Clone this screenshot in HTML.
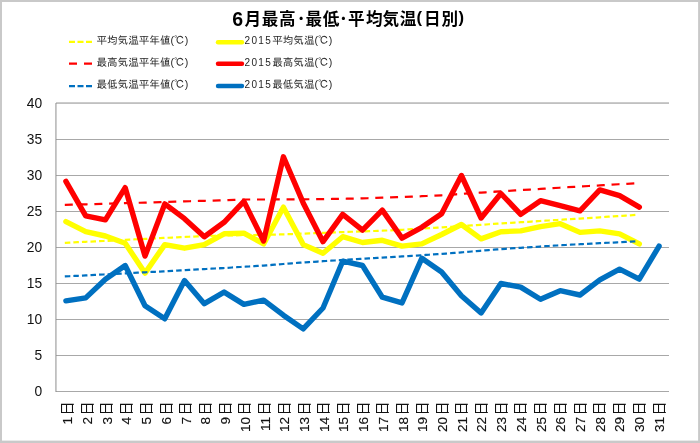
<!DOCTYPE html>
<html lang="ja">
<head>
<meta charset="utf-8">
<title>6月最高･最低･平均気温(日別)</title>
<style>
html,body{margin:0;padding:0;background:#fff;}
body{width:700px;height:443px;overflow:hidden;}
svg{display:block;}
.ax{font-family:"Liberation Sans","Noto Sans CJK JP",sans-serif;font-size:13.6px;fill:#111111;stroke:#111111;stroke-width:0.15px;}
.ay{font-size:13.8px;letter-spacing:0.3px;stroke:none;}
.lg{font-family:"Liberation Sans","IPAGothic",sans-serif;font-size:10.6px;fill:#262626;}
.tt{font-family:"Liberation Sans","Noto Sans CJK JP",sans-serif;font-size:16.6px;font-weight:bold;fill:#000;}
</style>
</head>
<body>
<svg width="700" height="443" viewBox="0 0 700 443">
<rect x="0" y="0" width="700" height="443" fill="#c9c9c9"/>
<rect x="2" y="2" width="696.1" height="438.6" fill="#ffffff"/>

<line x1="56.00" y1="391.50" x2="669.00" y2="391.50" stroke="#a8a8a8" stroke-width="1"/>
<line x1="56.00" y1="355.50" x2="669.00" y2="355.50" stroke="#a8a8a8" stroke-width="1"/>
<line x1="56.00" y1="319.50" x2="669.00" y2="319.50" stroke="#a8a8a8" stroke-width="1"/>
<line x1="56.00" y1="283.50" x2="669.00" y2="283.50" stroke="#a8a8a8" stroke-width="1"/>
<line x1="56.00" y1="247.50" x2="669.00" y2="247.50" stroke="#a8a8a8" stroke-width="1"/>
<line x1="56.00" y1="211.50" x2="669.00" y2="211.50" stroke="#a8a8a8" stroke-width="1"/>
<line x1="56.00" y1="175.50" x2="669.00" y2="175.50" stroke="#a8a8a8" stroke-width="1"/>
<line x1="56.00" y1="139.50" x2="669.00" y2="139.50" stroke="#a8a8a8" stroke-width="1"/>
<line x1="56.00" y1="103.05" x2="669.00" y2="103.05" stroke="#8c8c8c" stroke-width="1"/>
<line x1="55.95" y1="103.00" x2="55.95" y2="392.00" stroke="#8e8e8e" stroke-width="1"/>
<text class="ax ay" x="42.6" y="395.6" text-anchor="end">0</text>
<text class="ax ay" x="42.6" y="359.6" text-anchor="end">5</text>
<text class="ax ay" x="42.6" y="323.6" text-anchor="end">10</text>
<text class="ax ay" x="42.6" y="287.6" text-anchor="end">15</text>
<text class="ax ay" x="42.6" y="251.6" text-anchor="end">20</text>
<text class="ax ay" x="42.6" y="215.6" text-anchor="end">25</text>
<text class="ax ay" x="42.6" y="179.6" text-anchor="end">30</text>
<text class="ax ay" x="42.6" y="143.6" text-anchor="end">35</text>
<text class="ax ay" x="42.6" y="107.6" text-anchor="end">40</text>
<polyline points="65.9,242.8 85.7,241.8 105.4,240.9 125.2,239.9 145.0,238.9 164.8,237.9 184.5,237.0 204.3,236.0 224.1,235.5 243.9,235.2 263.6,234.8 283.4,234.4 303.2,233.6 323.0,232.9 342.7,232.1 362.5,231.4 382.3,230.7 402.0,229.8 421.8,228.6 441.6,227.4 461.4,226.1 481.1,224.8 500.9,223.4 520.7,222.2 540.5,221.0 560.2,219.8 580.0,218.6 599.8,217.3 619.6,216.0 639.3,214.7" fill="none" stroke="#ffff00" stroke-width="2.2" stroke-dasharray="3.3 5.273" stroke-linejoin="round" stroke-linecap="square"/>
<polyline points="65.9,221.6 85.7,231.7 105.4,236.0 125.2,243.2 145.0,273.1 164.8,244.6 184.5,248.2 204.3,244.6 224.1,233.8 243.9,233.1 263.6,243.9 283.4,207.2 303.2,244.6 323.0,253.3 342.7,236.7 362.5,242.5 382.3,240.3 402.0,246.1 421.8,243.9 441.6,234.5 461.4,224.5 481.1,238.9 500.9,231.7 520.7,230.9 540.5,226.6 560.2,223.7 580.0,232.4 599.8,230.9 619.6,233.8 639.3,243.9" fill="none" stroke="#ffff00" stroke-width="5.4" stroke-linejoin="round" stroke-linecap="round"/>
<polyline points="65.9,204.9 85.7,204.3 105.4,203.7 125.2,203.1 145.0,202.6 164.8,202.0 184.5,201.4 204.3,200.8 224.1,200.2 243.9,199.5 263.6,199.5 283.4,199.4 303.2,199.3 323.0,199.1 342.7,198.8 362.5,198.4 382.3,197.7 402.0,197.0 421.8,196.2 441.6,195.3 461.4,193.9 481.1,192.6 500.9,191.3 520.7,190.1 540.5,188.9 560.2,187.7 580.0,186.5 599.8,185.4 619.6,184.2 639.3,183.1" fill="none" stroke="#ff0000" stroke-width="2.2" stroke-dasharray="5.8 8.99" stroke-linejoin="round" stroke-linecap="square"/>
<polyline points="65.9,181.3 85.7,215.8 105.4,219.8 125.2,187.7 145.0,256.1 164.8,203.9 184.5,218.7 204.3,236.7 224.1,222.3 243.9,201.4 263.6,241.0 283.4,156.8 303.2,202.9 323.0,241.7 342.7,214.4 362.5,230.2 382.3,210.1 402.0,238.1 421.8,227.3 441.6,213.7 461.4,175.5 481.1,218.0 500.9,193.5 520.7,214.4 540.5,200.7 560.2,205.7 580.0,210.8 599.8,189.9 619.6,195.7 639.3,207.2" fill="none" stroke="#ff0000" stroke-width="5.4" stroke-linejoin="round" stroke-linecap="round"/>
<polyline points="65.9,276.4 85.7,275.4 105.4,274.4 125.2,273.4 145.0,272.3 164.8,271.3 184.5,270.2 204.3,269.1 224.1,268.0 243.9,266.8 263.6,265.6 283.4,264.0 303.2,262.4 323.0,261.2 342.7,260.0 362.5,258.8 382.3,257.6 402.0,256.4 421.8,255.2 441.6,253.9 461.4,252.4 481.1,250.7 500.9,249.1 520.7,247.8 540.5,246.5 560.2,245.3 580.0,244.2 599.8,243.2 619.6,242.2 639.3,241.2" fill="none" stroke="#0070c0" stroke-width="2.2" stroke-dasharray="3.3 5.278" stroke-linejoin="round" stroke-linecap="square"/>
<polyline points="65.9,300.8 85.7,297.9 105.4,279.2 125.2,265.5 145.0,305.8 164.8,318.8 184.5,280.6 204.3,303.7 224.1,292.1 243.9,304.4 263.6,300.1 283.4,315.2 303.2,328.9 323.0,308.0 342.7,261.2 362.5,265.5 382.3,297.2 402.0,302.9 421.8,258.3 441.6,272.0 461.4,295.7 481.1,313.0 500.9,283.5 520.7,287.1 540.5,299.3 560.2,290.7 580.0,295.0 599.8,279.9 619.6,269.1 639.3,279.2 659.1,246.1" fill="none" stroke="#0070c0" stroke-width="5.4" stroke-linejoin="round" stroke-linecap="round"/>
<text class="ax" transform="translate(72.3,401.6) rotate(-90)" text-anchor="end">1<tspan dx="1.4" dy="-0.4" stroke="none" font-size="14">日</tspan></text>
<text class="ax" transform="translate(92.0,401.6) rotate(-90)" text-anchor="end">2<tspan dx="1.4" dy="-0.4" stroke="none" font-size="14">日</tspan></text>
<text class="ax" transform="translate(111.7,401.6) rotate(-90)" text-anchor="end">3<tspan dx="1.4" dy="-0.4" stroke="none" font-size="14">日</tspan></text>
<text class="ax" transform="translate(131.4,401.6) rotate(-90)" text-anchor="end">4<tspan dx="1.4" dy="-0.4" stroke="none" font-size="14">日</tspan></text>
<text class="ax" transform="translate(151.2,401.6) rotate(-90)" text-anchor="end">5<tspan dx="1.4" dy="-0.4" stroke="none" font-size="14">日</tspan></text>
<text class="ax" transform="translate(170.9,401.6) rotate(-90)" text-anchor="end">6<tspan dx="1.4" dy="-0.4" stroke="none" font-size="14">日</tspan></text>
<text class="ax" transform="translate(190.6,401.6) rotate(-90)" text-anchor="end">7<tspan dx="1.4" dy="-0.4" stroke="none" font-size="14">日</tspan></text>
<text class="ax" transform="translate(210.3,401.6) rotate(-90)" text-anchor="end">8<tspan dx="1.4" dy="-0.4" stroke="none" font-size="14">日</tspan></text>
<text class="ax" transform="translate(230.0,401.6) rotate(-90)" text-anchor="end">9<tspan dx="1.4" dy="-0.4" stroke="none" font-size="14">日</tspan></text>
<text class="ax" transform="translate(249.8,401.6) rotate(-90)" text-anchor="end">10<tspan dx="1.4" dy="-0.4" stroke="none" font-size="14">日</tspan></text>
<text class="ax" transform="translate(269.5,401.6) rotate(-90)" text-anchor="end">11<tspan dx="1.4" dy="-0.4" stroke="none" font-size="14">日</tspan></text>
<text class="ax" transform="translate(289.2,401.6) rotate(-90)" text-anchor="end">12<tspan dx="1.4" dy="-0.4" stroke="none" font-size="14">日</tspan></text>
<text class="ax" transform="translate(308.9,401.6) rotate(-90)" text-anchor="end">13<tspan dx="1.4" dy="-0.4" stroke="none" font-size="14">日</tspan></text>
<text class="ax" transform="translate(328.6,401.6) rotate(-90)" text-anchor="end">14<tspan dx="1.4" dy="-0.4" stroke="none" font-size="14">日</tspan></text>
<text class="ax" transform="translate(348.4,401.6) rotate(-90)" text-anchor="end">15<tspan dx="1.4" dy="-0.4" stroke="none" font-size="14">日</tspan></text>
<text class="ax" transform="translate(368.1,401.6) rotate(-90)" text-anchor="end">16<tspan dx="1.4" dy="-0.4" stroke="none" font-size="14">日</tspan></text>
<text class="ax" transform="translate(387.8,401.6) rotate(-90)" text-anchor="end">17<tspan dx="1.4" dy="-0.4" stroke="none" font-size="14">日</tspan></text>
<text class="ax" transform="translate(407.5,401.6) rotate(-90)" text-anchor="end">18<tspan dx="1.4" dy="-0.4" stroke="none" font-size="14">日</tspan></text>
<text class="ax" transform="translate(427.2,401.6) rotate(-90)" text-anchor="end">19<tspan dx="1.4" dy="-0.4" stroke="none" font-size="14">日</tspan></text>
<text class="ax" transform="translate(447.0,401.6) rotate(-90)" text-anchor="end">20<tspan dx="1.4" dy="-0.4" stroke="none" font-size="14">日</tspan></text>
<text class="ax" transform="translate(466.7,401.6) rotate(-90)" text-anchor="end">21<tspan dx="1.4" dy="-0.4" stroke="none" font-size="14">日</tspan></text>
<text class="ax" transform="translate(486.4,401.6) rotate(-90)" text-anchor="end">22<tspan dx="1.4" dy="-0.4" stroke="none" font-size="14">日</tspan></text>
<text class="ax" transform="translate(506.1,401.6) rotate(-90)" text-anchor="end">23<tspan dx="1.4" dy="-0.4" stroke="none" font-size="14">日</tspan></text>
<text class="ax" transform="translate(525.8,401.6) rotate(-90)" text-anchor="end">24<tspan dx="1.4" dy="-0.4" stroke="none" font-size="14">日</tspan></text>
<text class="ax" transform="translate(545.6,401.6) rotate(-90)" text-anchor="end">25<tspan dx="1.4" dy="-0.4" stroke="none" font-size="14">日</tspan></text>
<text class="ax" transform="translate(565.3,401.6) rotate(-90)" text-anchor="end">26<tspan dx="1.4" dy="-0.4" stroke="none" font-size="14">日</tspan></text>
<text class="ax" transform="translate(585.0,401.6) rotate(-90)" text-anchor="end">27<tspan dx="1.4" dy="-0.4" stroke="none" font-size="14">日</tspan></text>
<text class="ax" transform="translate(604.7,401.6) rotate(-90)" text-anchor="end">28<tspan dx="1.4" dy="-0.4" stroke="none" font-size="14">日</tspan></text>
<text class="ax" transform="translate(624.4,401.6) rotate(-90)" text-anchor="end">29<tspan dx="1.4" dy="-0.4" stroke="none" font-size="14">日</tspan></text>
<text class="ax" transform="translate(644.2,401.6) rotate(-90)" text-anchor="end">30<tspan dx="1.4" dy="-0.4" stroke="none" font-size="14">日</tspan></text>
<text class="ax" transform="translate(663.9,401.6) rotate(-90)" text-anchor="end">31<tspan dx="1.4" dy="-0.4" stroke="none" font-size="14">日</tspan></text>
<text class="tt" y="25.6 24.7 24.7 24.7 24.7 24.7 24.7 24.7 24.7 24.7 24.7 24.7 22.8 24.7 24.7 22.8" x="232.2 244.4 261.8 279.1 297.0 305.4 322.8 339.2 348.0 366.1 382.5 399.8 416.6 424.1 441.5 458.4"><tspan font-size="19.5">6</tspan>月最高･最低･平均気温(日別)</text>
<line x1="69" y1="41.9" x2="92" y2="41.9" stroke="#ffff00" stroke-width="2.3" stroke-dasharray="6 2.5"/>
<text class="lg" x="96.4" y="43.5">平均気温平年値(℃)</text>
<line x1="218" y1="42.2" x2="242" y2="42.2" stroke="#ffff00" stroke-width="4.4" stroke-linecap="round"/>
<text class="lg" x="244.5" y="43.5"><tspan font-size="10" letter-spacing="1.35">2015</tspan>平均気温(℃)</text>
<line x1="69" y1="63.7" x2="92" y2="63.7" stroke="#ff0000" stroke-width="2.3" stroke-dasharray="8 7"/>
<text class="lg" x="96.4" y="65.5">最高気温平年値(℃)</text>
<line x1="218" y1="63.8" x2="242" y2="63.8" stroke="#ff0000" stroke-width="4.4" stroke-linecap="round"/>
<text class="lg" x="244.5" y="65.5"><tspan font-size="10" letter-spacing="1.35">2015</tspan>最高気温(℃)</text>
<line x1="69" y1="86.2" x2="92" y2="86.2" stroke="#0070c0" stroke-width="2.3" stroke-dasharray="6 2.5"/>
<text class="lg" x="96.4" y="88.2">最低気温平年値(℃)</text>
<line x1="218" y1="86.0" x2="242" y2="86.0" stroke="#0070c0" stroke-width="4.4" stroke-linecap="round"/>
<text class="lg" x="244.5" y="88.2"><tspan font-size="10" letter-spacing="1.35">2015</tspan>最低気温(℃)</text>
</svg>
</body>
</html>
